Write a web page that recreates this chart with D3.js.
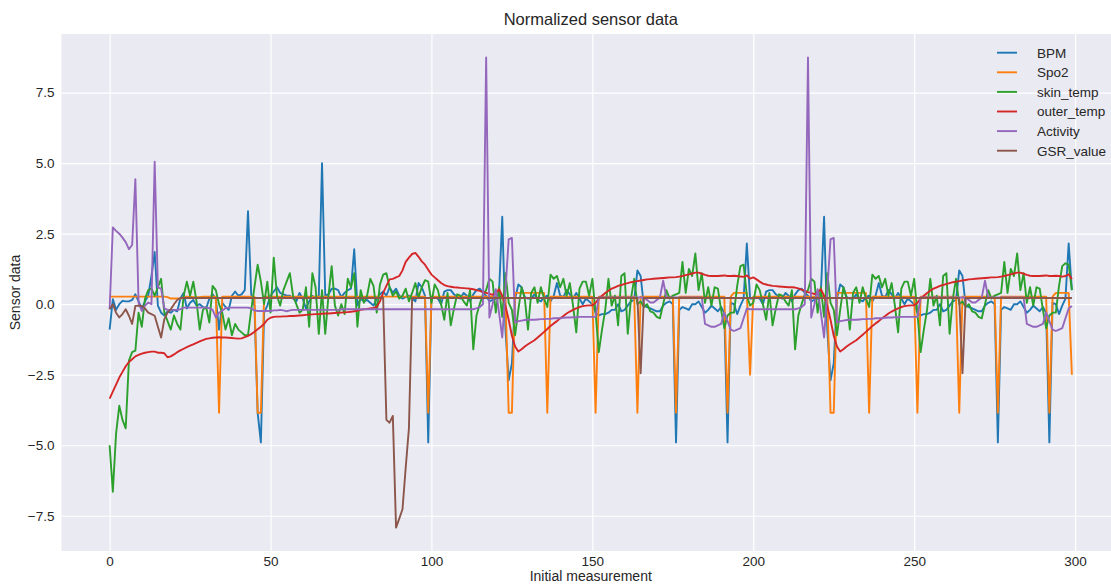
<!DOCTYPE html>
<html lang="en">
  <head>
    <meta charset="utf-8">
    <title>Normalized sensor data</title>
    <style>
      body {
        margin: 0;
        background: #fff;
      }
      svg {
        font-family: "Liberation Sans", Arial, Helvetica, sans-serif;
      }
    </style>
  </head>
  <body>
    <div class="graph"></div>

    <script src="https://d3js.org/d3.v7.min.js"></script>
    <script>
      // values, index 0..299
      var bpm = [
        -0.9, 0.18, -0.2, 0.0, 0.12, 0.1, 0.1, 0.15, 0.35, 0.1,
        -0.15, 0.1, 0.3, 1.0, 1.85, -0.05, -0.3, -0.4, -0.25, -0.3,
        -0.2, -0.25, 0.2, 0.4, -0.15, 0.05, 0.15, -0.05, 0.0, -0.1,
        -0.15, 0.2, 0.35, 0.2, -0.9, 0.05, -0.1, -0.2, 0.3, 0.45,
        0.3, 0.35, 0.5, 3.3, 0.35, -0.05, -3.85, -4.9, -0.3, -0.05,
        0.3, 0.45, 0.6, 0.4, 0.35, 0.3, 0.3, 0.2, 0.1, 0.4,
        0.2, -0.15, 0.1, 0.3, 0.2, 0.3, 5.0, 0.3, 0.35, 0.55,
        0.55, 0.5, 0.25, 0.4, 0.5, 0.55, 1.95, -0.05, 0.2, 0.1,
        0.15, 0.05, -0.05, 0.2, 0.35, 0.45, 0.3, 0.6, 0.4, 0.55,
        0.3, 0.2, 0.25, 0.3, 0.2, 0.1, 0.75, 0.6, 0.3, -4.9,
        0.2, 0.25, 0.2, 0.0, 0.45, 0.5, 0.5, 0.35, 0.25, 0.2,
        0.4, 0.3, 0.1, 0.35, 0.5, 0.55, 0.4, 0.3, 0.1, 0.15,
        0.2, 0.4, 3.1, -0.9, -2.7, -2.1, 0.2, 0.7, 0.6, 0.25,
        0.2, 0.2, 0.35, 0.15, 0.1, 0.25, 0.3, 0.1, 0.3, 0.75,
        0.3, 0.25, 0.5, 0.35, 0.2, 0.4, 0.2, 0.0, 0.2, 0.1,
        0.0, -0.3, -0.4, -0.35, -0.35, -0.3, -0.2, -0.2, 0.0, -0.25,
        -0.2, -0.05, 0.1, 0.15, 1.2, 1.0, -0.05, -0.1, -0.15, -0.2,
        -0.25, -0.25, -0.05, 0.05, 0.1, 0.0, -4.9, -0.2, -0.1, -0.15,
        -0.2, 0.0, 0.0, 0.1, -0.1, -0.3, -0.2, -0.05, -0.15, -0.25,
        -0.1, -0.3, -4.9, 0.05, 0.0, -0.35, -0.05, 0.2, 2.15, 0.2,
        0.2, 0.25, 0.2, 0.0, 0.45, 0.5, 0.5, 0.35, 0.25, 0.2,
        0.4, 0.3, 0.1, 0.35, 0.5, 0.55, 0.4, 0.3, 0.1, 0.15,
        0.2, 0.4, 3.1, -0.9, -2.7, -2.1, 0.2, 0.7, 0.6, 0.25,
        0.2, 0.2, 0.35, 0.15, 0.1, 0.25, 0.3, 0.1, 0.3, 0.75,
        0.3, 0.25, 0.5, 0.35, 0.2, 0.4, 0.2, 0.0, 0.2, 0.1,
        0.0, -0.3, -0.4, -0.35, -0.35, -0.3, -0.2, -0.2, 0.0, -0.25,
        -0.2, -0.05, 0.1, 0.15, 1.2, 1.0, -0.05, -0.1, -0.15, -0.2,
        -0.25, -0.25, -0.05, 0.05, 0.1, 0.0, -4.9, -0.2, -0.1, -0.15,
        -0.2, 0.0, 0.0, 0.1, -0.1, -0.3, -0.2, -0.05, -0.15, -0.25,
        -0.1, -0.3, -4.9, 0.05, 0.0, -0.35, -0.05, 0.2, 2.15, 0.5
      ];

      var spo2 = [
        0.27, 0.27, 0.27, 0.27, 0.27, 0.27, 0.27, 0.27, 0.27, 0.27,
        0.27, 0.27, 0.27, 0.27, 0.27, 0.27, 0.27, 0.27, 0.25, 0.2,
        0.2, 0.2, 0.2, 0.25, 0.27, 0.27, 0.25, 0.25, 0.25, 0.27,
        0.27, 0.27, 0.27, 0.27, -3.85, 0.27, 0.27, 0.27, 0.27, 0.27,
        0.27, 0.27, 0.27, 0.27, 0.27, 0.27, -3.85, -3.85, 0.27, 0.27,
        0.27, 0.27, 0.27, 0.27, 0.27, 0.27, 0.27, 0.27, 0.27, 0.27,
        0.27, 0.27, 0.27, 0.27, 0.27, 0.27, 0.27, 0.27, 0.27, 0.27,
        0.27, 0.27, 0.27, 0.27, 0.27, 0.27, 0.27, 0.27, 0.27, 0.27,
        0.27, 0.27, 0.27, 0.27, 0.27, 0.27, 0.27, 0.27, 0.27, 0.27,
        0.27, 0.27, 0.27, 0.27, 0.27, 0.27, 0.27, 0.27, 0.27, -3.85,
        0.27, 0.27, 0.27, 0.27, 0.27, 0.27, 0.27, 0.27, 0.27, 0.27,
        0.27, 0.27, 0.27, 0.27, 0.27, 0.27, 0.27, 0.27, 0.27, 0.27,
        0.27, 0.27, 0.27, 0.27, -3.85, -3.85, 0.4, 0.4, 0.4, 0.4,
        0.4, 0.4, 0.4, 0.4, 0.4, 0.4, -3.85, 0.27, 0.27, 0.27,
        0.27, 0.27, 0.27, 0.27, 0.27, 0.27, 0.27, 0.27, 0.27, 0.27,
        0.27, -3.85, 0.27, 0.27, 0.27, 0.27, 0.27, 0.27, 0.27, 0.27,
        0.27, 0.27, 0.27, 0.27, -3.85, 0.27, 0.27, 0.27, 0.27, 0.27,
        0.27, 0.27, 0.27, 0.27, 0.27, 0.27, -3.85, 0.27, 0.27, 0.27,
        0.27, 0.27, 0.27, 0.27, 0.27, 0.27, 0.27, 0.27, 0.27, 0.27,
        0.27, 0.27, -3.85, 0.27, 0.4, 0.4, 0.4, 0.4, 0.4, -2.5,
        0.27, 0.27, 0.27, 0.27, 0.27, 0.27, 0.27, 0.27, 0.27, 0.27,
        0.27, 0.27, 0.27, 0.27, 0.27, 0.27, 0.27, 0.27, 0.27, 0.27,
        0.27, 0.27, 0.27, 0.27, -3.85, -3.85, 0.4, 0.4, 0.4, 0.4,
        0.4, 0.4, 0.4, 0.4, 0.4, 0.4, -3.85, 0.27, 0.27, 0.27,
        0.27, 0.27, 0.27, 0.27, 0.27, 0.27, 0.27, 0.27, 0.27, 0.27,
        0.27, -3.85, 0.27, 0.27, 0.27, 0.27, 0.27, 0.27, 0.27, 0.27,
        0.27, 0.27, 0.27, 0.27, -3.85, 0.27, 0.27, 0.27, 0.27, 0.27,
        0.27, 0.27, 0.27, 0.27, 0.27, 0.27, -3.85, 0.27, 0.27, 0.27,
        0.27, 0.27, 0.27, 0.27, 0.27, 0.27, 0.27, 0.27, 0.27, 0.27,
        0.27, 0.27, -3.85, 0.27, 0.4, 0.4, 0.4, 0.4, 0.4, -2.5
      ];

      var skinTemp = [
        -5.0, -6.65, -4.6, -3.6, -4.1, -4.4, -2.0, -1.7, -1.65, -0.3,
        -0.8, 0.2, 0.5, 0.55, 0.3, 0.6, 0.9, -0.3, -0.6, -0.9,
        -0.4, -0.7, -0.9, 0.3, 0.8, 0.3, 0.8, 0.1, -0.9, -0.2,
        -0.1, -0.65, 0.65, 0.5, 0.0, -0.3, -0.9, -0.5, -1.1, -0.7,
        -0.9, -1.0, -1.1, -1.1, -0.2, 0.6, 1.4, 0.8, 0.0, 0.8,
        -0.3, 1.65, 0.3, -0.05, 0.5, 0.8, 1.1, 0.3, 0.0, -0.3,
        -0.2, 0.6, -0.8, 1.1, 0.6, -1.05, 0.5, -1.05, 0.3, 1.35,
        -0.05, -0.4, 0.0, -0.35, 0.9, 0.6, 1.1, -0.8, 0.5, 0.05,
        0.3, 0.9, 0.65, -0.3, 0.7, 1.05, 1.1, 0.6, 0.3, 0.45,
        0.2, 0.3, 0.55, 0.1, 0.4, 0.75, 0.25, 0.6, 0.85, 0.8,
        0.05, 0.7, 0.5, 0.0, -0.55, 0.4, -0.75, -0.15, 0.35, 0.3,
        0.1, -0.05, 0.5, -1.6, -0.4, 0.0, 0.35, 0.5, 0.9, 0.8,
        -0.3, 0.6, -0.45, 1.1, 0.05, -0.2, -1.1, -0.2, 0.6, 0.2,
        -0.9, 0.4, 0.6, 0.05, 0.6, 0.2, -0.1, 1.05, 0.9, 1.0,
        0.6, 0.9, 0.3, 0.75, -0.05, -1.0, 0.55, 0.8, 0.8, 0.3,
        0.9, -0.3, -1.7, -0.9, -0.2, 0.9, -0.05, 0.3, -0.75, 1.0,
        1.1, -1.05, 0.2, 0.9, 0.0, 0.1, -0.1, 0.0, -0.25, -0.3,
        -0.45, -0.5, 0.0, 0.5, 0.2, 0.3, 0.35, 0.4, 1.5, 0.4,
        1.25, 1.0, 1.8, 0.5, 1.1, 0.05, 0.6, -0.05, 0.6, 0.55,
        -0.2, -0.85, -0.4, -0.3, -0.3, 0.65, 1.35, 1.4, 0.3, -0.05,
        0.05, 0.7, 0.5, 0.0, -0.55, 0.4, -0.75, -0.15, 0.35, 0.3,
        0.1, -0.05, 0.5, -1.6, -0.4, 0.0, 0.35, 0.5, 0.9, 0.8,
        -0.3, 0.6, -0.45, 1.1, 0.05, -0.2, -1.1, -0.2, 0.6, 0.2,
        -0.9, 0.4, 0.6, 0.05, 0.6, 0.2, -0.1, 1.05, 0.9, 1.0,
        0.6, 0.9, 0.3, 0.75, -0.05, -1.0, 0.55, 0.8, 0.8, 0.3,
        0.9, -0.3, -1.7, -0.9, -0.2, 0.9, -0.05, 0.3, -0.75, 1.0,
        1.1, -1.05, 0.2, 0.9, 0.0, 0.1, -0.1, 0.0, -0.25, -0.3,
        -0.45, -0.5, 0.0, 0.5, 0.2, 0.3, 0.35, 0.4, 1.5, 0.4,
        1.25, 1.0, 1.8, 0.5, 1.1, 0.05, 0.6, -0.05, 0.6, 0.55,
        -0.2, -0.85, -0.4, -0.3, -0.3, 0.65, 1.35, 1.45, 1.4, 0.5
      ];

      var outerTemp = [
        -3.35, -3.1, -2.85, -2.6, -2.4, -2.2, -2.05, -1.95, -1.85, -1.8,
        -1.75, -1.72, -1.7, -1.68, -1.68, -1.72, -1.72, -1.74, -1.88, -1.85,
        -1.78, -1.7, -1.64, -1.58, -1.52, -1.47, -1.42, -1.37, -1.32, -1.27,
        -1.23, -1.21, -1.19, -1.18, -1.17, -1.18, -1.18, -1.19, -1.2, -1.21,
        -1.22, -1.21, -1.17, -1.12, -1.06, -0.98, -0.89, -0.8, -0.7, -0.55,
        -0.48, -0.45, -0.44, -0.44, -0.43, -0.43, -0.42, -0.42, -0.41, -0.4,
        -0.39, -0.38, -0.37, -0.36, -0.35, -0.35, -0.34, -0.33, -0.33, -0.32,
        -0.31, -0.3, -0.3, -0.29, -0.28, -0.27, -0.25, -0.23, -0.2, -0.18,
        -0.17, -0.15, -0.13, -0.1, 0.1, 0.4, 0.65, 0.88, 0.9, 0.95,
        1.0, 1.2, 1.5, 1.65, 1.78, 1.82, 1.68, 1.52, 1.4, 1.22,
        1.05, 0.95, 0.85, 0.75, 0.68, 0.64, 0.62, 0.6, 0.59, 0.58,
        0.57, 0.56, 0.55, 0.53, 0.5, 0.47, 0.43, 0.4, 0.37, 0.33,
        0.4, 0.53, 0.3, -0.06, -0.55, -1.12, -1.5, -1.68, -1.6, -1.5,
        -1.42, -1.35, -1.28, -1.18, -1.08, -0.98, -0.88, -0.77, -0.68, -0.6,
        -0.5, -0.42, -0.33, -0.26, -0.2, -0.15, -0.1, -0.07, -0.05, -0.04,
        -0.04, 0.05, 0.2, 0.3, 0.4, 0.48, 0.55, 0.6, 0.65, 0.68,
        0.72, 0.75, 0.78, 0.8, 0.82, 0.84, 0.86, 0.88, 0.89, 0.9,
        0.91, 0.92, 0.93, 0.94, 0.95, 0.95, 0.96, 0.98, 1.0, 1.03,
        1.06, 1.09, 1.12, 1.12, 1.08, 1.04, 1.01, 1.0, 1.0, 1.0,
        1.01, 1.02, 1.0, 1.0, 1.01, 1.0, 0.98, 0.97, 1.02, 0.91,
        0.95, 0.88, 0.8, 0.73, 0.7, 0.67, 0.65, 0.64, 0.63, 0.62,
        0.61, 0.6, 0.6, 0.59, 0.56, 0.52, 0.47, 0.43, 0.4, 0.36,
        0.42, 0.53, 0.3, -0.06, -0.55, -1.12, -1.5, -1.68, -1.6, -1.5,
        -1.42, -1.35, -1.28, -1.18, -1.08, -0.98, -0.88, -0.77, -0.68, -0.6,
        -0.5, -0.42, -0.33, -0.26, -0.2, -0.15, -0.1, -0.07, -0.05, -0.04,
        -0.04, 0.05, 0.2, 0.3, 0.4, 0.48, 0.55, 0.6, 0.65, 0.68,
        0.72, 0.75, 0.78, 0.8, 0.82, 0.84, 0.86, 0.88, 0.89, 0.9,
        0.91, 0.92, 0.93, 0.94, 0.95, 0.95, 0.96, 0.98, 1.0, 1.03,
        1.06, 1.09, 1.12, 1.12, 1.08, 1.04, 1.01, 1.0, 1.0, 1.0,
        1.01, 1.02, 1.0, 1.0, 1.01, 1.0, 0.98, 1.0, 1.06, 0.89
      ];

      var activity = [
        -0.18, 2.72, 2.6, 2.5, 2.36, 2.2, 1.95, 2.1, 4.43, 0.05,
        -0.24, -0.05, 0.06, 0.0, 5.05, 0.6, 0.55, -0.15, -0.2, -0.2,
        -0.2, -0.2, -0.18, -0.12, -0.12, -0.12, -0.12, -0.12, -0.12, -0.12,
        -0.12, -0.14, -0.2, -0.47, -0.3, -0.22, -0.14, -0.12, -0.12, -0.12,
        -0.12, -0.12, -0.12, -0.12, -0.15, -0.22, -0.24, -0.24, -0.24, -0.24,
        -0.24, -0.22, -0.22, -0.2, -0.22, -0.25, -0.22, -0.2, -0.2, -0.2,
        -0.2, -0.2, -0.2, -0.2, -0.2, -0.2, -0.2, -0.2, -0.2, -0.2,
        -0.2, -0.2, -0.18, -0.18, -0.18, -0.18, -0.18, -0.18, -0.18, -0.18,
        -0.18, -0.18, -0.18, -0.18, -0.18, -0.18, -0.18, -0.18, -0.18, -0.18,
        -0.18, -0.18, -0.18, -0.18, -0.18, -0.18, -0.18, -0.18, -0.18, -0.18,
        -0.18, -0.18, -0.18, -0.18, -0.18, -0.18, -0.18, -0.18, -0.18, -0.18,
        -0.18, -0.18, -0.18, -0.18, -0.15, -0.1, 0.0, 8.75, -0.47, 0.0,
        0.53, -0.3, -1.18, 0.5, 2.3, 2.35, -0.65, -0.6, -0.58, -0.56,
        -0.55, -0.55, -0.55, -0.54, -0.53, -0.53, -0.52, -0.52, -0.5, -0.5,
        -0.5, -0.48, -0.47, -0.47, -0.46, -0.46, -0.45, -0.45, -0.45, -0.45,
        -0.45, -0.45, 0.24, 0.24, 0.24, 0.24, 0.24, 0.24, 0.24, 0.24,
        0.24, 0.24, 0.24, 0.24, 0.24, 0.24, 0.24, 0.15, 0.06, 0.06,
        0.15, 0.24, 0.83, 0.24, 0.24, 0.24, 0.24, 0.24, 0.24, 0.24,
        0.24, 0.24, 0.24, 0.24, 0.24, -0.7, -0.75, -0.8, -0.8, -0.75,
        -0.7, -0.3, -0.6, -0.9, -0.95, -0.9, -0.85, -0.5, -0.15, -0.18,
        -0.18, -0.18, -0.18, -0.18, -0.18, -0.18, -0.18, -0.18, -0.18, -0.18,
        -0.18, -0.18, -0.18, -0.18, -0.15, -0.1, 0.0, 8.75, -0.47, 0.0,
        0.53, -0.3, -1.18, 0.5, 2.3, 2.35, -0.65, -0.6, -0.58, -0.56,
        -0.55, -0.55, -0.55, -0.54, -0.53, -0.53, -0.52, -0.52, -0.5, -0.5,
        -0.5, -0.48, -0.47, -0.47, -0.46, -0.46, -0.45, -0.45, -0.45, -0.45,
        -0.45, -0.45, 0.24, 0.24, 0.24, 0.24, 0.24, 0.24, 0.24, 0.24,
        0.24, 0.24, 0.24, 0.24, 0.24, 0.24, 0.24, 0.15, 0.06, 0.06,
        0.15, 0.24, 0.83, 0.24, 0.24, 0.24, 0.24, 0.24, 0.24, 0.24,
        0.24, 0.24, 0.24, 0.24, 0.24, -0.7, -0.75, -0.8, -0.8, -0.75,
        -0.7, -0.3, -0.6, -0.9, -0.95, -0.9, -0.85, -0.5, -0.15, -0.06
      ];

      var gsrValue = [
        -0.18, 0.0, -0.3, -0.47, -0.35, -0.18, -0.41, -0.7, -0.06, -0.05,
        -0.06, -0.15, -0.3, -0.35, -0.41, -0.8, -1.18, -0.53, -0.3, -0.18,
        0.0, 0.15, 0.22, 0.22, 0.22, 0.22, 0.22, 0.22, 0.22, 0.22,
        0.22, 0.22, 0.22, 0.22, 0.22, 0.22, 0.22, 0.22, 0.22, 0.22,
        0.22, 0.22, 0.22, 0.22, 0.22, 0.22, 0.22, 0.22, 0.22, 0.22,
        0.22, 0.22, 0.22, 0.22, 0.22, 0.22, 0.22, 0.22, 0.22, 0.22,
        0.22, 0.22, 0.22, 0.22, 0.22, 0.22, 0.22, 0.22, 0.22, 0.22,
        0.22, 0.22, 0.22, 0.22, 0.22, 0.22, 0.22, 0.22, 0.22, 0.22,
        0.22, 0.22, 0.22, 0.22, 0.22, 0.22, -4.1, -4.2, -3.96, -7.92,
        -7.6, -7.27, -5.8, -4.4, 0.22, 0.22, 0.22, 0.22, 0.22, 0.22,
        0.22, 0.22, 0.22, 0.22, 0.22, 0.22, 0.22, 0.22, 0.22, 0.22,
        0.22, 0.22, 0.22, 0.22, 0.22, 0.22, 0.22, 0.22, 0.22, 0.22,
        0.22, 0.22, 0.22, 0.22, 0.22, 0.22, 0.22, 0.22, 0.22, 0.22,
        0.22, 0.22, 0.22, 0.22, 0.22, 0.22, 0.22, 0.22, 0.22, 0.22,
        0.22, 0.22, 0.22, 0.22, 0.22, 0.22, 0.22, 0.22, 0.22, 0.22,
        0.22, 0.22, 0.22, 0.22, 0.22, 0.22, 0.22, 0.22, 0.22, 0.22,
        0.22, 0.22, 0.22, 0.22, 0.22, -2.45, 0.22, 0.22, 0.22, 0.22,
        0.22, 0.22, 0.22, 0.22, 0.22, 0.22, 0.22, 0.22, 0.22, 0.22,
        0.22, 0.22, 0.22, 0.22, 0.22, 0.22, 0.22, 0.22, 0.22, 0.22,
        0.22, 0.22, 0.22, 0.22, 0.22, 0.22, 0.22, 0.22, 0.22, 0.22,
        0.22, 0.22, 0.22, 0.22, 0.22, 0.22, 0.22, 0.22, 0.22, 0.22,
        0.22, 0.22, 0.22, 0.22, 0.22, 0.22, 0.22, 0.22, 0.22, 0.22,
        0.22, 0.22, 0.22, 0.22, 0.22, 0.22, 0.22, 0.22, 0.22, 0.22,
        0.22, 0.22, 0.22, 0.22, 0.22, 0.22, 0.22, 0.22, 0.22, 0.22,
        0.22, 0.22, 0.22, 0.22, 0.22, 0.22, 0.22, 0.22, 0.22, 0.22,
        0.22, 0.22, 0.22, 0.22, 0.22, 0.22, 0.22, 0.22, 0.22, 0.22,
        0.22, 0.22, 0.22, 0.22, 0.22, -2.45, 0.22, 0.22, 0.22, 0.22,
        0.22, 0.22, 0.22, 0.22, 0.22, 0.22, 0.22, 0.22, 0.22, 0.22,
        0.22, 0.22, 0.22, 0.22, 0.22, 0.22, 0.22, 0.22, 0.22, 0.22,
        0.22, 0.22, 0.22, 0.22, 0.22, 0.22, 0.22, 0.22, 0.22, 0.22
      ];

      var seriesNames = ['BPM', 'Spo2', 'skin_temp', 'outer_temp', 'Activity', 'GSR_value'];
      var seriesValues = [bpm, spo2, skinTemp, outerTemp, activity, gsrValue];
      var seriesColors = ['#1f77b4', '#ff7f0e', '#2ca02c', '#d62728', '#9467bd', '#8c564b'];
      var xTicks = [0, 50, 100, 150, 200, 250, 300];
      var yTicks = [-7.5, -5.0, -2.5, 0.0, 2.5, 5.0, 7.5];

      var width = 1111,
          height = 585,
          plotLeft = 61.5,
          plotRight = 1120,
          plotTop = 34,
          plotBottom = 551;

      var svg = d3.select('.graph')
                  .append('svg')
                  .attr('width', width)
                  .attr('height', height);

      var x = d3.scaleLinear().domain([-14.95, 313.95]).range([plotLeft, plotRight]);
      var y = d3.scaleLinear().domain([-8.75, 9.58]).range([plotBottom, plotTop]);

      svg.append('rect')
         .attr('x', plotLeft)
         .attr('y', plotTop)
         .attr('width', plotRight - plotLeft)
         .attr('height', plotBottom - plotTop)
         .attr('fill', '#eaeaf2');

      svg.append('clipPath')
         .attr('id', 'plot-clip')
         .append('rect')
         .attr('x', plotLeft)
         .attr('y', plotTop)
         .attr('width', plotRight - plotLeft)
         .attr('height', plotBottom - plotTop);

      // grid lines
      svg.append('g')
         .attr('class', 'grid')
         .attr('transform', 'translate(0,' + plotBottom + ')')
         .call(d3.axisBottom(x).tickValues(xTicks).tickSize(-(plotBottom - plotTop)).tickFormat(''));
      svg.append('g')
         .attr('class', 'grid')
         .attr('transform', 'translate(' + plotLeft + ',0)')
         .call(d3.axisLeft(y).tickValues(yTicks).tickSize(-(plotRight - plotLeft)).tickFormat(''));
      svg.selectAll('.grid .domain').remove();
      svg.selectAll('.grid line')
         .attr('stroke', '#ffffff')
         .attr('stroke-width', 1.2);

      // tick labels
      var fmt = function(d) { return d3.format('.1f')(d).replace('-', '\u2212'); };
      var xAxis = svg.append('g')
                     .attr('transform', 'translate(0,' + plotBottom + ')')
                     .call(d3.axisBottom(x).tickValues(xTicks).tickSize(0).tickPadding(5));
      var yAxis = svg.append('g')
                     .attr('transform', 'translate(' + plotLeft + ',0)')
                     .call(d3.axisLeft(y).tickValues(yTicks).tickSize(0).tickPadding(7).tickFormat(fmt));
      [xAxis, yAxis].forEach(function(a) {
        a.select('.domain').remove();
        a.selectAll('text')
         .attr('fill', '#262626')
         .style('font-size', '13.5px')
         .style('font-family', '"Liberation Sans", Arial, sans-serif');
      });

      var line = d3.line()
                   .x(function(d, i) { return x(i); })
                   .y(function(d) { return y(d); });

      svg.append('g')
         .attr('clip-path', 'url(#plot-clip)')
         .selectAll('path')
         .data(seriesValues)
         .enter()
         .append('path')
         .attr('d', function(values) { return line(values); })
         .attr('fill', 'none')
         .attr('stroke', function(values, i) { return seriesColors[i]; })
         .attr('stroke-width', 1.9)
         .attr('stroke-linejoin', 'round');

      // legend, no frame
      var legend = svg.append('g')
                      .selectAll('g')
                      .data(seriesNames)
                      .enter()
                      .append('g')
                      .attr('transform', function(name, i) {
                        return 'translate(997,' + (52.7 + i * 19.6) + ')';
                      });
      legend.append('line')
            .attr('x1', 0)
            .attr('x2', 20)
            .attr('stroke', function(name, i) { return seriesColors[i]; })
            .attr('stroke-width', 1.9);
      legend.append('text')
            .attr('x', 40)
            .attr('dy', '0.36em')
            .attr('fill', '#262626')
            .style('font-size', '13.5px')
            .text(function(name) { return name; });

      svg.append('text')
         .attr('x', (plotLeft + plotRight) / 2)
         .attr('y', 25)
         .attr('text-anchor', 'middle')
         .attr('fill', '#262626')
         .style('font-size', '16.5px')
         .text('Normalized sensor data');

      svg.append('text')
         .attr('x', (plotLeft + plotRight) / 2)
         .attr('y', 581)
         .attr('text-anchor', 'middle')
         .attr('fill', '#262626')
         .style('font-size', '14px')
         .text('Initial measurement');

      svg.append('text')
         .attr('transform', 'translate(20,' + ((plotTop + plotBottom) / 2) + ') rotate(-90)')
         .attr('text-anchor', 'middle')
         .attr('fill', '#262626')
         .style('font-size', '14px')
         .text('Sensor data');
    </script>
  </body>
</html>
